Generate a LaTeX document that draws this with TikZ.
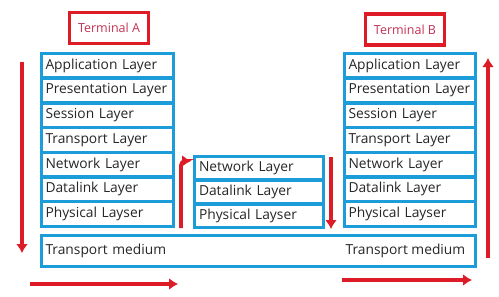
\documentclass[tikz,border=0pt]{standalone}
\usepackage{fontspec}
\setmainfont{Open Sans}
\usetikzlibrary{arrows.meta, positioning}

\definecolor{layerblue}{RGB}{28,156,216}
\definecolor{flowred}{RGB}{222,28,40}
\definecolor{termtext}{RGB}{196,48,84}

\begin{document}
\begin{tikzpicture}[
        x=1pt, y=-1pt,
        % Stacked layers share their borders
        node distance=0pt,
        % Layer boxes: white fill, thick blue border, text left
        layer/.style = {rectangle, draw=layerblue, line width=3.5pt, fill=white, outer sep=0pt,
                        text width=124pt, inner xsep=4pt, inner ysep=0pt, align=left, minimum height=24.7pt,
                        font=\fontsize{13.8}{15}\selectfont, text=black!85},
        midlayer/.style = {layer, text width=120pt, inner xsep=4.5pt, minimum height=23.7pt},
        % Terminal titles: red frame
        terminal/.style = {rectangle, draw=flowred, line width=3.5pt, minimum width=79pt,
                           minimum height=31pt, font=\fontsize{12.5}{14}\selectfont, text=termtext},
        % Flow arrows: thick red
        flow/.style = {draw=flowred, line width=3.6pt, -{Latex[length=9pt, width=12pt]}}
    ]
    \useasboundingbox (0,0) rectangle (499,297);

    % --- Titles ---
    \node[terminal] (term_a) at (109,28) {Terminal A};
    \node[terminal] (term_b) at (405,29.5) {Terminal B};

    % --- Terminal A stack ---
    \node[layer] (a_app) at (107.5,65.85) {Application Layer};
    \node[layer, below=of a_app] (a_pres) {Presentation Layer};
    \node[layer, below=of a_pres] (a_sess) {Session Layer};
    \node[layer, below=of a_sess] (a_trans) {Transport Layer};
    \node[layer, below=of a_trans] (a_net) {Network Layer};
    \node[layer, below=of a_net] (a_link) {Datalink Layer};
    \node[layer, below=of a_link] (a_phys) {Physical Layser};

    % --- Intermediate node stack ---
    \node[midlayer] (m_net) at (259,168.35) {Network Layer};
    \node[midlayer, below=of m_net] (m_link) {Datalink Layer};
    \node[midlayer, below=of m_link] (m_phys) {Physical Layser};

    % --- Terminal B stack ---
    \node[layer, text width=123pt] (b_app) at (410,65.85) {Application Layer};
    \node[layer, text width=123pt, below=of b_app] (b_pres) {Presentation Layer};
    \node[layer, text width=123pt, below=of b_pres] (b_sess) {Session Layer};
    \node[layer, text width=123pt, below=of b_sess] (b_trans) {Transport Layer};
    \node[layer, text width=123pt, below=of b_trans] (b_net) {Network Layer};
    \node[layer, text width=123pt, below=of b_net] (b_link) {Datalink Layer};
    \node[layer, text width=123pt, below=of b_link] (b_phys) {Physical Layser};

    % --- Transport medium ---
    \node[layer, text width=426pt, minimum height=31pt] (medium) at (258.5,251) {Transport medium};
    \node[anchor=east, inner xsep=10pt, font=\fontsize{13.8}{15}\selectfont, text=black!85]
          (medium_b) at (medium.east) {Transport medium};

    % --- Flow arrows ---
    \coordinate (down_a_top) at (22,62);
    \coordinate (down_a_end) at (22,253);
    \coordinate (send_start) at (30,284);
    \coordinate (send_end) at (178,284);
    \coordinate (hop_up) at (181,228);
    \coordinate (hop_end) at (191,161);
    \coordinate (hop_down) at (331,157);
    \coordinate (hop_down_end) at (331,229);
    \coordinate (up_b_start) at (488,258);
    \coordinate (up_b_end) at (488,58);
    \coordinate (recv_start) at (342,280);
    \coordinate (recv_end) at (472,280);

    \draw[flow] (down_a_top) -- (down_a_end);
    \draw[flow] (send_start) -- (send_end);
    \draw[flow, rounded corners=4pt] (hop_up) |- (hop_end);
    \draw[flow] (hop_down) -- (hop_down_end);
    \draw[flow] (up_b_start) -- (up_b_end);
    \draw[flow] (recv_start) -- (recv_end);

\end{tikzpicture}
\end{document}
